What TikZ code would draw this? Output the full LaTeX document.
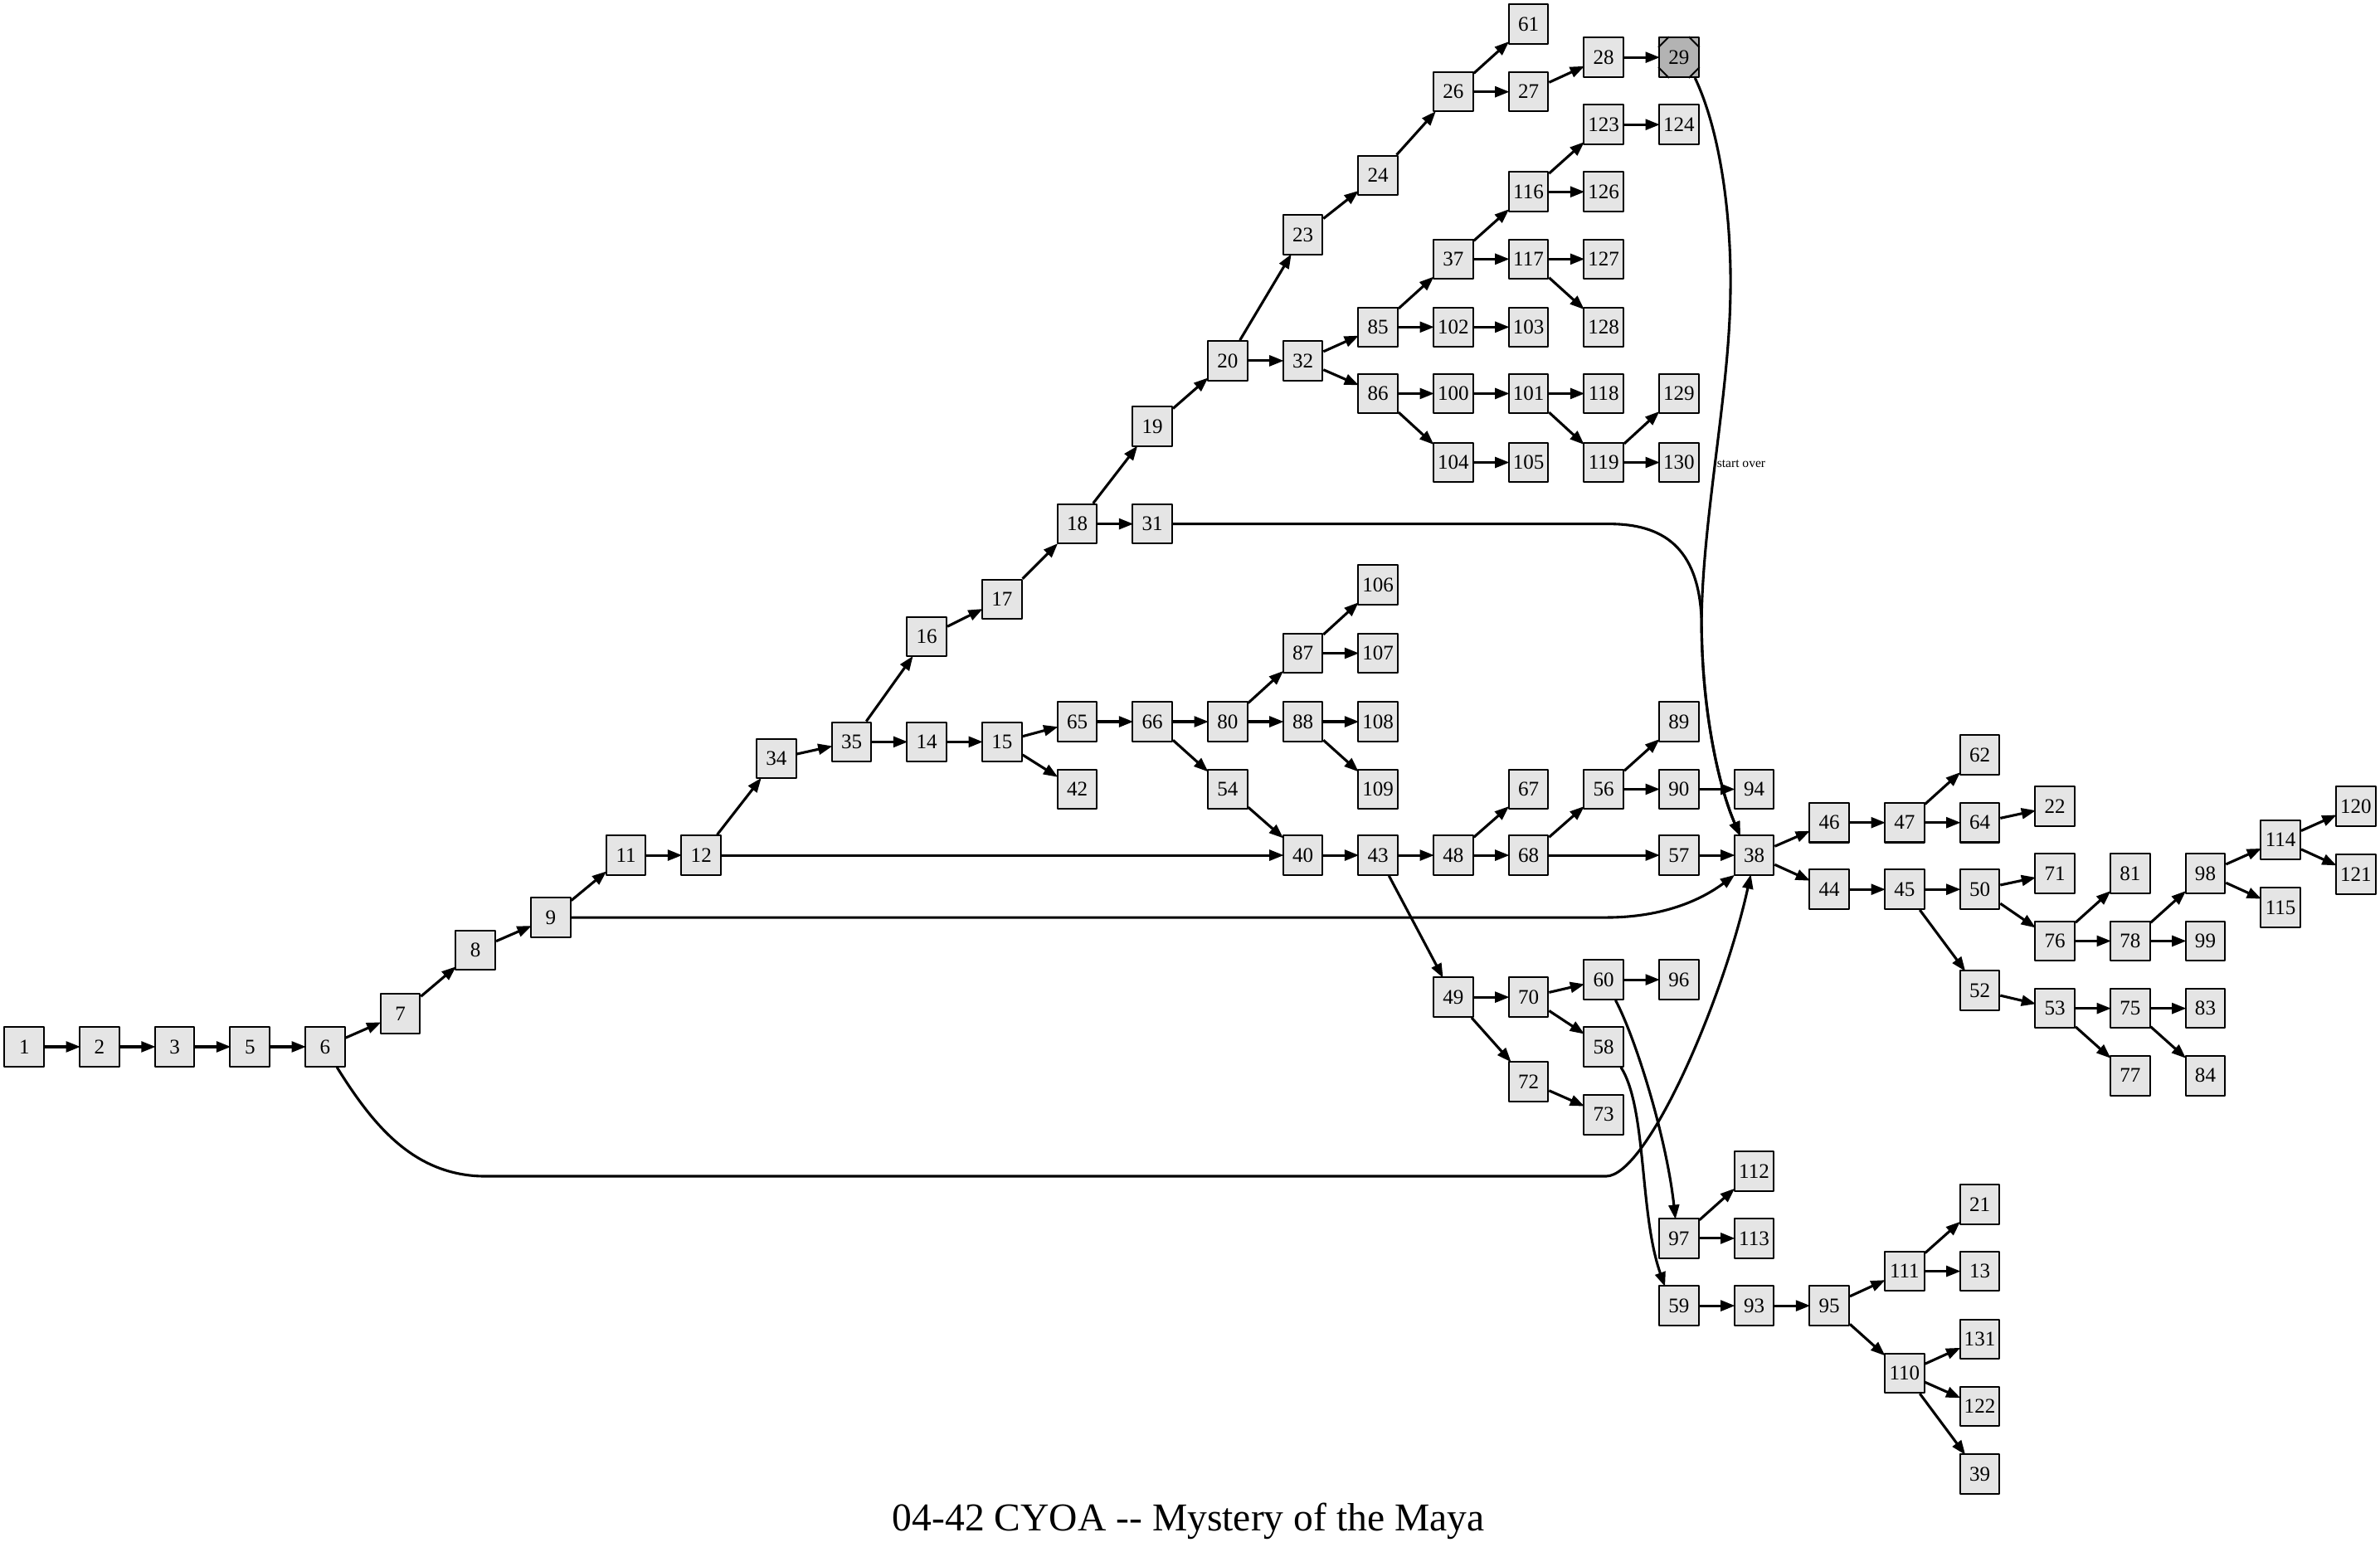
\documentclass[tikz,border=0pt]{standalone}
\usepackage{fontspec}
\setmainfont{Liberation Serif}
\usetikzlibrary{arrows.meta,calc}
\providecommand{\Paper}{E5E5E5}
\providecommand{\Finish}{B3B3B3}
\newcommand{\ColGap}{49.55}
\newcommand{\Edge}{1.7pt}
\newcommand{\Rim}{1.1pt}
\newcommand{\Cut}{7}
\definecolor{paper}{HTML}{\Paper}
\definecolor{finish}{HTML}{\Finish}
\definecolor{ink}{HTML}{000000}

\begin{document}
\begin{tikzpicture}[x=1pt,y=-1pt, line join=round,
  passage/.style={draw=ink,fill=paper,line width=\Rim,minimum width=26pt,minimum height=26pt,
    inner sep=0pt,font=\fontsize{13.7}{16}\selectfont},
  link/.style={ink,line width=\Edge,shorten >=-1pt,-{Triangle[length=9.5pt,width=7pt]}},
  note/.style={font=\fontsize{8.5}{10}\selectfont,inner sep=0pt},
  titletext/.style={font=\fontsize{26}{30}\selectfont,inner sep=0pt}]

  % ---- page, fixed to the reference size ----------------------------------
  \path[use as bounding box,fill=white] (0,0) rectangle (1568,1019);

  % ---- passages: number/column/row ----------------------------------------
  \foreach \n/\c/\y in {1/0/689.7, 2/1/689.7, 3/2/689.7, 5/3/689.7, 6/4/689.7,
      7/5/668, 8/6/626, 9/7/604.5, 11/8/563.5, 12/9/563.5, 34/10/499.8, 35/11/488.8,
      16/12/419.5, 14/12/488.8, 17/13/394.9, 15/13/488.8,
      18/14/345.2, 65/14/475.5, 42/14/520,
      19/15/281, 31/15/345.2, 66/15/475.5,
      20/16/237.7, 80/16/475.5, 54/16/520,
      23/17/154.7, 32/17/237.7, 87/17/430.4, 88/17/475.5, 40/17/563.5,
      24/18/115.6, 85/18/215.5, 86/18/259.3, 106/18/385.2, 107/18/430.4,
      108/18/475.5, 109/18/520, 43/18/563.5,
      26/19/60.5, 37/19/170.7, 102/19/215.5, 100/19/259.3, 104/19/304.7,
      48/19/563.5, 49/19/657,
      61/20/15.8, 27/20/60.5, 116/20/126.4, 117/20/170.7, 103/20/215.5,
      101/20/259.3, 105/20/304.7, 67/20/520, 68/20/563.5, 70/20/657, 72/20/712.6,
      28/21/37.8, 123/21/82.1, 126/21/126.4, 127/21/170.7, 128/21/215.5,
      118/21/259.3, 119/21/304.7, 56/21/520, 60/21/645.5, 58/21/689.7, 73/21/734.4,
      124/22/82.1, 129/22/259.3, 130/22/304.7, 89/22/475.5, 90/22/520,
      57/22/563.5, 96/22/645.5, 97/22/815.9, 59/22/860.3,
      94/23/520, 38/23/563.5, 112/23/771.6, 113/23/815.9, 93/23/860.3,
      46/24/542, 44/24/586, 95/24/860.3,
      47/25/542, 45/25/586, 111/25/837.6, 110/25/904.7,
      62/26/497.3, 64/26/542, 50/26/586, 52/26/652.7, 21/26/793.5, 13/26/837.6,
      131/26/882.3, 122/26/926.7, 39/26/971.3,
      22/27/531.3, 71/27/575.5, 76/27/620, 53/27/664.4,
      81/28/575.5, 78/28/620, 75/28/664.4, 77/28/708.7,
      98/29/575.5, 99/29/620, 83/29/664.4, 84/29/708.7,
      114/30/553.4, 115/30/598, 120/31/531.3, 121/31/576} {
    \node[passage] (n\n) at ({16+\c*\ColGap},\y) {\n};
  }

  % ---- the ending that sends the reader back ------------------------------
  \node[passage,fill=finish] (n29) at ({16+22*\ColGap},37.8) {29};
  \foreach \c/\dx/\dy in {north west/1/1, north east/-1/1, south west/1/-1, south east/-1/-1} {
    \draw[ink,line width=\Rim] ($(n29.\c)+(\dx*\Cut,0)$) -- ($(n29.\c)+(0,\dy*\Cut)$);
  }

  % ---- plain choices ------------------------------------------------------
  \foreach \a/\b in {1/2, 2/3, 3/5, 5/6, 6/7, 7/8, 8/9, 9/11, 11/12, 12/34, 12/40,
      34/35, 35/16, 35/14, 16/17, 17/18, 18/19, 18/31, 19/20, 20/23, 20/32,
      23/24, 24/26, 26/61, 26/27, 27/28, 28/29, 32/85, 32/86, 85/37, 85/102,
      37/116, 37/117, 116/123, 116/126, 123/124, 117/127, 117/128, 102/103,
      86/100, 86/104, 100/101, 101/118, 101/119, 119/129, 119/130, 104/105,
      14/15, 15/65, 15/42, 65/66, 66/80, 66/54, 80/87, 80/88, 87/106, 87/107,
      88/108, 88/109, 54/40, 40/43, 43/48, 43/49, 48/67, 48/68, 68/56, 68/57,
      56/89, 56/90, 90/94, 57/38, 38/46, 38/44, 46/47, 47/62, 47/64, 64/22,
      44/45, 45/50, 45/52, 50/71, 50/76, 76/81, 76/78, 78/98, 78/99, 98/114,
      98/115, 114/120, 114/121, 52/53, 53/75, 53/77, 75/83, 75/84,
      49/70, 49/72, 70/60, 70/58, 72/73, 60/96, 97/112, 97/113,
      59/93, 93/95, 95/111, 95/110, 111/21, 111/13, 110/131, 110/122, 110/39} {
    \draw[link] (n\a) -- (n\b);
  }

  % ---- long jumps into 38 -------------------------------------------------
  \coordinate (merge) at (1121,408);
  \draw[link] (n6.-60) .. controls (245,740) and (272,775) .. (320,775) -- (1058,775)
    .. controls (1085,775) and (1135,660) .. (n38.-100);
  \draw[link] (n9) -- (1058,604.5) .. controls (1092,604.5) and (1118,595) .. (n38.south west);
  \draw[link] (n31) -- (1060,345.2) .. controls (1095,345.2) and (1119,360) .. (merge)
    .. controls (1121,470) and (1133,520) .. (n38.125);
  \draw[link] (n29.-52) .. controls (1135,90) and (1141,150) .. (1140,195)
    .. controls (1139,260) and (1122,340) .. (merge)
    .. controls (1121,470) and (1133,520) .. (n38.125);
  \node[note,anchor=west] (startover) at (1131,305.7) {start over};

  % ---- the two that drop down past 73 -------------------------------------
  \draw[link] (n60.-60) .. controls (1078,685) and (1098,750) .. (n97.100);
  \draw[link] (n58.-50) .. controls (1085,730) and (1080,800) .. (n59.125);

  % ---- title --------------------------------------------------------------
  \node[titletext,anchor=base] (booktitle) at (783,1008.4) {04-42 CYOA {-}{-} Mystery of the Maya};

\end{tikzpicture}
\end{document}
